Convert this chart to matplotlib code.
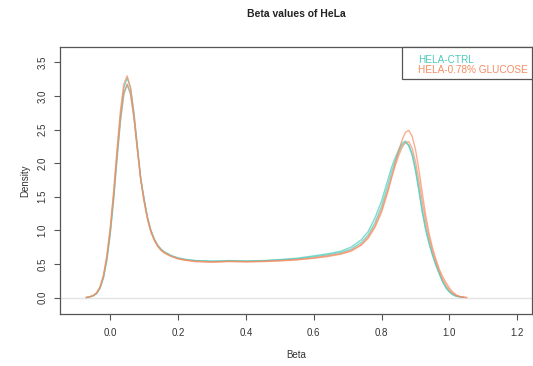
#!/usr/bin/env python3
"""
Beta値の密度プロット (HeLa)

CTRL と 0.78% GLUCOSE の各レプリケートの密度曲線を重ねて表示します。
"""

import numpy as np
import matplotlib.pyplot as plt
from matplotlib.patches import Rectangle

# 共通のBeta値グリッド
beta_grid = [-0.07, -0.06, -0.05, -0.04, -0.03, -0.02, -0.01, 0.00, 0.01, 0.02,
             0.03, 0.04, 0.05, 0.06, 0.07, 0.08, 0.09, 0.10, 0.11, 0.12,
             0.13, 0.14, 0.15, 0.16, 0.18, 0.20, 0.22, 0.25, 0.30, 0.35,
             0.40, 0.45, 0.50, 0.55, 0.60, 0.64, 0.68, 0.71, 0.74, 0.76,
             0.78, 0.80, 0.82, 0.83, 0.84, 0.85, 0.86, 0.87, 0.88, 0.89,
             0.90, 0.91, 0.92, 0.93, 0.94, 0.95, 0.96, 0.97, 0.98, 0.99,
             1.00, 1.01, 1.02, 1.03, 1.04, 1.05, 1.06]

# HELA-CTRL レプリケート1
ctrl_rep1 = [0.00, 0.01, 0.025, 0.06, 0.14, 0.29, 0.55, 0.94, 1.45, 2.05,
             2.61, 3.02, 3.17, 3.03, 2.68, 2.22, 1.76, 1.46, 1.19, 1.00,
             0.87, 0.78, 0.72, 0.68, 0.625, 0.59, 0.57, 0.55, 0.54, 0.55,
             0.545, 0.55, 0.565, 0.585, 0.62, 0.65, 0.69, 0.75, 0.86, 0.98,
             1.18, 1.44, 1.78, 1.95, 2.08, 2.20, 2.30, 2.33, 2.26, 2.12,
             1.88, 1.58, 1.26, 1.00, 0.80, 0.63, 0.48, 0.35, 0.23, 0.14,
             0.08, 0.04, 0.02, 0.01, 0.003, np.nan, np.nan]

# HELA-CTRL レプリケート2
ctrl_rep2 = [0.00, 0.01, 0.025, 0.06, 0.14, 0.30, 0.57, 0.97, 1.50, 2.12,
             2.70, 3.12, 3.27, 3.12, 2.75, 2.26, 1.78, 1.46, 1.18, 0.99,
             0.86, 0.77, 0.71, 0.67, 0.62, 0.585, 0.565, 0.55, 0.54, 0.545,
             0.54, 0.545, 0.56, 0.575, 0.605, 0.635, 0.67, 0.72, 0.82, 0.93,
             1.11, 1.36, 1.70, 1.88, 2.03, 2.16, 2.27, 2.31, 2.27, 2.14,
             1.92, 1.62, 1.30, 1.03, 0.82, 0.64, 0.49, 0.36, 0.24, 0.15,
             0.085, 0.045, 0.02, 0.01, 0.003, np.nan, np.nan]

# HELA-0.78% GLUCOSE レプリケート1
gluc_rep1 = [0.00, 0.012, 0.03, 0.07, 0.16, 0.33, 0.62, 1.04, 1.58, 2.20,
             2.78, 3.18, 3.30, 3.12, 2.72, 2.22, 1.75, 1.42, 1.16, 0.97,
             0.85, 0.76, 0.70, 0.66, 0.61, 0.575, 0.555, 0.535, 0.525, 0.535,
             0.53, 0.535, 0.545, 0.56, 0.585, 0.61, 0.645, 0.69, 0.78, 0.88,
             1.04, 1.27, 1.60, 1.80, 2.00, 2.18, 2.34, 2.46, 2.49, 2.40,
             2.20, 1.90, 1.55, 1.22, 0.95, 0.74, 0.57, 0.42, 0.31, 0.22,
             0.14, 0.08, 0.04, 0.017, 0.006, 0.0, np.nan]

# HELA-0.78% GLUCOSE レプリケート2
gluc_rep2 = [0.00, 0.012, 0.03, 0.07, 0.155, 0.32, 0.60, 1.00, 1.52, 2.12,
             2.66, 3.05, 3.18, 3.03, 2.67, 2.20, 1.75, 1.44, 1.18, 0.99,
             0.86, 0.77, 0.71, 0.67, 0.615, 0.58, 0.56, 0.54, 0.53, 0.54,
             0.535, 0.54, 0.55, 0.565, 0.59, 0.62, 0.655, 0.70, 0.79, 0.90,
             1.07, 1.31, 1.63, 1.80, 1.96, 2.11, 2.23, 2.31, 2.32, 2.22,
             2.02, 1.74, 1.42, 1.13, 0.89, 0.69, 0.53, 0.39, 0.27, 0.18,
             0.11, 0.06, 0.03, 0.013, 0.005, 0.0, np.nan]

x_ticks = [0.0, 0.2, 0.4, 0.6, 0.8, 1.0, 1.2]
y_ticks = [0.0, 0.5, 1.0, 1.5, 2.0, 2.5, 3.0, 3.5]
legend_labels = ['HELA-CTRL', 'HELA-0.78% GLUCOSE']

CTRL_COLOR = '#4ccabb'
GLUC_COLOR = '#f68c62'


def plot_density(output_path):
    """密度曲線を描画して保存"""
    plt.rcParams['font.family'] = ['Liberation Sans', 'DejaVu Sans']

    fig = plt.figure(figsize=(5.33, 3.66), dpi=100)
    ax = fig.add_axes([0.1126, 0.142, 0.886, 0.730])

    # ゼロ基準線
    ax.axhline(0, color='#e4e4e4', linewidth=1.0, zorder=1)

    # 各レプリケートの密度曲線
    for ys in (ctrl_rep1, ctrl_rep2):
        ax.plot(beta_grid, ys, color=CTRL_COLOR, linewidth=1.0, alpha=0.7, zorder=2)
    for ys in (gluc_rep1, gluc_rep2):
        ax.plot(beta_grid, ys, color=GLUC_COLOR, linewidth=1.0, alpha=0.7, zorder=3)

    ax.set_xlim(-0.148, 1.244)
    ax.set_ylim(-0.246, 3.733)
    ax.set_xticks(x_ticks)
    ax.set_xticklabels([f'{v:.1f}' for v in x_ticks])
    ax.set_yticks(y_ticks)
    ax.set_yticklabels([f'{v:.1f}' for v in y_ticks], rotation=90, va='center')

    ax.tick_params(axis='both', direction='out', length=4, width=0.8,
                   color='#555555', labelsize=7, labelcolor='#333333', pad=6)
    ax.tick_params(axis='y', pad=5)
    for spine in ax.spines.values():
        spine.set_color('#555555')
        spine.set_linewidth(0.9)

    ax.set_xlabel('Beta', fontsize=7, color='#333333', labelpad=9)
    ax.set_ylabel('Density', fontsize=7, color='#333333', labelpad=5)
    fig.text(0.556, 0.962, 'Beta values of HeLa', ha='center', va='center',
             fontsize=7.5, fontweight='bold', color='#222222')

    # 凡例（R風の枠とテキスト）
    box = Rectangle((0.7246, 0.880), 0.2754, 0.120, transform=ax.transAxes,
                    facecolor='white', edgecolor='#555555', linewidth=0.9,
                    zorder=5, clip_on=False)
    ax.add_patch(box)
    ax.text(0.758, 0.950, legend_labels[0], transform=ax.transAxes,
            color=CTRL_COLOR, fontsize=7.2, va='center', ha='left', zorder=6)
    ax.text(0.758, 0.912, legend_labels[1], transform=ax.transAxes,
            color=GLUC_COLOR, fontsize=7.2, va='center', ha='left', zorder=6)

    fig.savefig(output_path, dpi=100)
    plt.close(fig)


def main():
    plot_density('out.png')


if __name__ == "__main__":
    main()
